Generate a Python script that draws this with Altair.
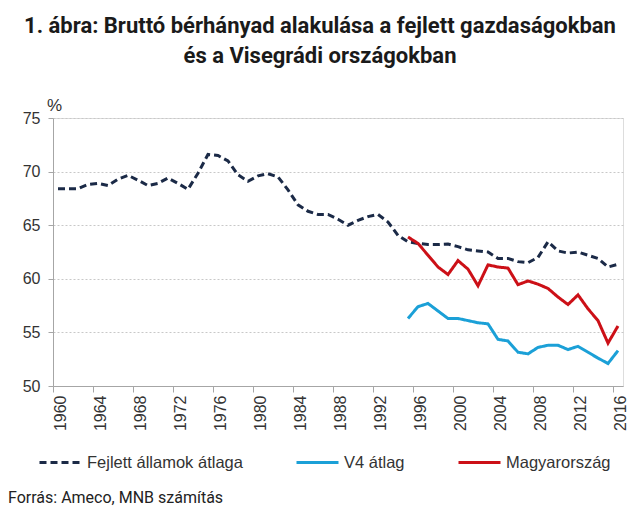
import altair as alt
import pandas as pd

years_dev = list(range(1960, 2017))
dev = [68.4, 68.4, 68.4, 68.8, 68.9, 68.7, 69.3, 69.65, 69.2, 68.7,
       68.9, 69.4, 68.9, 68.35, 69.85, 71.6, 71.5, 71.0, 69.7, 69.1,
       69.6, 69.8, 69.5, 68.3, 66.9, 66.3, 66.0, 66.0, 65.55, 65.0,
       65.45, 65.8, 66.0, 65.3, 64.05, 63.45, 63.3, 63.2, 63.2, 63.25,
       63.0, 62.7, 62.6, 62.5, 61.9, 61.9, 61.6, 61.5, 62.0, 63.45,
       62.6, 62.4, 62.5, 62.2, 61.9, 61.1, 61.35]

years_v4 = list(range(1995, 2017))
v4 = [56.3, 57.4, 57.7, 57.0, 56.3, 56.3, 56.1, 55.9, 55.8, 54.35,
      54.2, 53.15, 53.0, 53.6, 53.8, 53.8, 53.4, 53.7, 53.15, 52.6,
      52.1, 53.3]
hu = [63.9, 63.3, 62.2, 61.1, 60.4, 61.7, 60.9, 59.35, 61.3, 61.1,
      61.0, 59.45, 59.8, 59.5, 59.1, 58.3, 57.6, 58.5, 57.2, 56.1,
      54.0, 55.6]

names = ["Fejlett államok átlaga", "V4 átlag", "Magyarország"]
colors = ["#1b2a47", "#1ba0d7", "#cc1017"]
dashes = [[7, 4], [1, 0], [1, 0]]

x_ticks = list(range(1960, 2017, 4))
y_ticks = [50, 55, 60, 65, 70, 75]

title_lines = ["1. ábra: Bruttó bérhányad alakulása a fejlett gazdaságokban",
               "és a Visegrádi országokban"]
footer = "Forrás: Ameco, MNB számítás"

rows = []
for y, v in zip(years_dev, dev):
    rows.append({"year": y, "value": v, "series": names[0]})
for y, v in zip(years_v4, v4):
    rows.append({"year": y, "value": v, "series": names[1]})
for y, v in zip(years_v4, hu):
    rows.append({"year": y, "value": v, "series": names[2]})
df = pd.DataFrame(rows)

LABEL_FONT = "Liberation Sans"

leg = alt.Legend(
    title=None, orient="none", legendX=-15, legendY=322,
    direction="horizontal", symbolType="stroke", symbolSize=1764,
    symbolStrokeWidth=3, labelFontSize=16.5, labelFont=LABEL_FONT,
    labelColor="#333333", columnPadding=47, labelOffset=4,
)

lines = alt.Chart(df).mark_line(strokeWidth=3).encode(
    x=alt.X("year:Q",
            scale=alt.Scale(domain=[1959.5, 2016.5], nice=False, zero=False),
            axis=alt.Axis(values=x_ticks, format="d", labelAngle=-90, title=None,
                          tickOffset=-5, labelOffset=7, grid=False,
                          domainColor="#a6a6a6", tickColor="#a6a6a6", tickSize=6,
                          labelPadding=3, labelFont=LABEL_FONT, labelFontSize=16,
                          labelColor="#333333")),
    y=alt.Y("value:Q",
            scale=alt.Scale(domain=[50, 75], nice=False, zero=False),
            axis=alt.Axis(values=y_ticks, title="%", titleAngle=0, titleX=1, titleY=-8,
                          titleAlign="center", titleBaseline="alphabetic",
                          titleFont=LABEL_FONT, titleFontSize=17, titleFontWeight="normal",
                          titleColor="#333333",
                          grid=True, gridColor="#c8c8c8", gridDash=[2, 2], gridWidth=1,
                          domainColor="#a6a6a6", tickColor="#a6a6a6", tickSize=5,
                          labelPadding=8, labelFont=LABEL_FONT, labelFontSize=16,
                          labelColor="#333333")),
    color=alt.Color("series:N", scale=alt.Scale(domain=names, range=colors), legend=leg),
    strokeDash=alt.StrokeDash("series:N", scale=alt.Scale(domain=names, range=dashes), legend=leg),
)

foot = alt.Chart(pd.DataFrame({"t": [footer]})).mark_text(
    align="left", baseline="alphabetic", fontSize=16, font="Roboto", color="#222222"
).encode(x=alt.value(-45), y=alt.value(385), text="t:N")

chart = alt.layer(lines, foot).properties(
    width=570, height=268,
    title=alt.TitleParams(text=title_lines, font="Roboto", fontSize=22, fontWeight="bold",
                          anchor="middle", dx=-18, offset=28, lineHeight=30, color="#1a1a1a"),
    autosize=alt.AutoSizeParams(type="none"),
    padding={"left": 53, "top": 118, "right": 17, "bottom": 125},
).configure_view(stroke=None).configure(background="white")

chart.save("out.html", embed_options={"renderer": "svg", "actions": False})
